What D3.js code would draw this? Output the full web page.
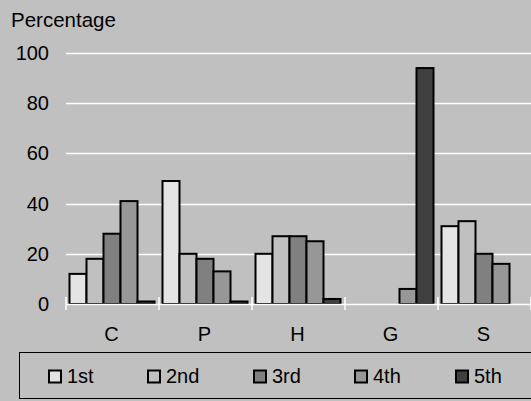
<!DOCTYPE html>
<html>
<head>
<meta charset="utf-8">
<script src="https://cdn.jsdelivr.net/npm/d3@7"></script>
<style>
  html, body { margin: 0; padding: 0; background: #c0c0c0; }
  svg { display: block; font-family: "Liberation Sans", Arial, sans-serif; }
</style>
</head>
<body>
<svg id="chart" width="531" height="401"></svg>
<script>
// Categories and ranking series
const categories = ["C", "P", "H", "G", "S"];
const seriesNames = ["1st", "2nd", "3rd", "4th", "5th"];
const seriesColors = ["#e4e4e4", "#c0c0c0", "#808080", "#979797", "#404040"];
// values[series][category], in percent
const rank1 = [12, 49, 20, 0, 31];
const rank2 = [18, 20, 27, 0, 33];
const rank3 = [28, 18, 27, 0, 20];
const rank4 = [41, 13, 25, 6, 16];
const rank5 = [1, 1, 2, 94, 0];
const seriesValues = [rank1, rank2, rank3, rank4, rank5];
const yTicks = [0, 20, 40, 60, 80, 100];

const svg = d3.select("#chart");
const W = 531, H = 401;
const FS = 20;

svg.append("rect").attr("width", W).attr("height", H).attr("fill", "#c0c0c0");

const x = d3.scaleBand().domain(categories).range([66, 531]);
const xInner = d3.scaleBand().domain(seriesNames).range([3.5, 88.5]);
const y = d3.scaleLinear().domain([0, 100]).range([304, 53]);

// Gridlines
svg.append("g").selectAll("line").data(yTicks.filter(d => d > 0)).join("line")
  .attr("x1", 66).attr("x2", W)
  .attr("y1", d => Math.round(y(d)) + 0.5).attr("y2", d => Math.round(y(d)) + 0.5)
  .attr("stroke", "#ffffff").attr("stroke-width", 1.5);

// Y tick labels
svg.append("g").selectAll("text").data(yTicks).join("text")
  .attr("x", 49).attr("y", d => y(d) + 7)
  .attr("text-anchor", "end").attr("font-size", FS).attr("fill", "#000")
  .text(d => d);

// Axis title
svg.append("text").attr("x", 11).attr("y", 27)
  .attr("font-size", FS + 0.5).attr("fill", "#000").text("Percentage");

// Bars
const rows = [];
seriesNames.forEach((s, si) => {
  categories.forEach((c, ci) => {
    rows.push({ s, si, c, v: seriesValues[si][ci] });
  });
});
svg.append("g").selectAll("rect").data(rows.filter(d => d.v > 0)).join("rect")
  .attr("x", d => x(d.c) + xInner(d.s))
  .attr("y", d => y(d.v))
  .attr("width", xInner.bandwidth())
  .attr("height", d => y(0) - y(d.v))
  .attr("fill", d => seriesColors[d.si])
  .attr("stroke", "#000").attr("stroke-width", 2);

// Category axis line and cross ticks
svg.append("line").attr("x1", 66).attr("x2", W).attr("y1", 304.5).attr("y2", 304.5)
  .attr("stroke", "#ffffff").attr("stroke-width", 1.5);
const tickXs = categories.map(c => x(c)).concat([x(categories[categories.length - 1]) + x.bandwidth()]);
svg.append("g").selectAll("line").data(tickXs).join("line")
  .attr("x1", d => d).attr("x2", d => d).attr("y1", 297).attr("y2", 310)
  .attr("stroke", "#ffffff").attr("stroke-width", 1.5);

// Category labels
svg.append("g").selectAll("text").data(categories).join("text")
  .attr("x", d => x(d) + x.bandwidth() / 2 - 1).attr("y", 341)
  .attr("text-anchor", "middle").attr("font-size", FS).attr("fill", "#000")
  .text(d => d);

// Legend
svg.append("rect").attr("x", 19.5).attr("y", 352.5).attr("width", 530).attr("height", 46)
  .attr("fill", "none").attr("stroke", "#000").attr("stroke-width", 1);
const legendX = [48, 147, 253, 354, 455];
const lg = svg.append("g").selectAll("g").data(seriesNames).join("g")
  .attr("transform", (d, i) => `translate(${legendX[i]},0)`);
lg.append("rect").attr("x", 1).attr("y", 370.5).attr("width", 12).attr("height", 12)
  .attr("fill", (d, i) => seriesColors[i]).attr("stroke", "#000").attr("stroke-width", 2);
lg.append("text").attr("x", 19).attr("y", 383)
  .attr("font-size", FS).attr("fill", "#000").text(d => d);
</script>
</body>
</html>
